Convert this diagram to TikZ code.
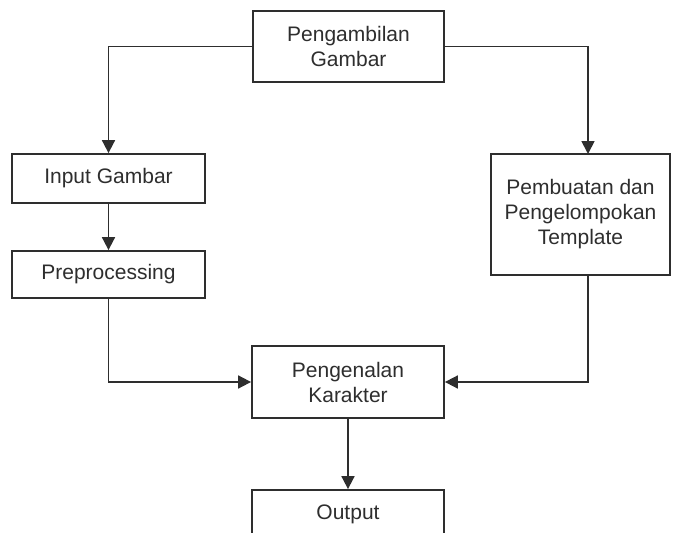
\documentclass[tikz,border=0pt]{standalone}
\usepackage{fontspec}
\setmainfont{Liberation Sans}
\usetikzlibrary{arrows.meta}
\definecolor{ink}{HTML}{2E2E2E}
\tikzset{
  box/.style={draw=ink, line width=1.8pt, fill=white, text=ink, align=center,
    font=\fontsize{21}{25}\selectfont, inner sep=0pt},
  arr/.style={draw=ink, line width=1.8pt, -{Triangle[length=13pt,width=13pt]}}
}
\begin{document}
\begin{tikzpicture}[x=1pt,y=-1pt]
\useasboundingbox (0,0) rectangle (673,533);
\clip (0,0) rectangle (673,533);
\node[box, minimum width=191pt, minimum height=71pt] (a) at (348.5,46.5) {Pengambilan\\Gambar};
\node[box, minimum width=193pt, minimum height=49pt] (b) at (108.5,178.5) {Input Gambar};
\node[box, minimum width=193pt, minimum height=47pt] (c) at (108.5,274.5) {Preprocessing};
\node[box, minimum width=179pt, minimum height=121pt] (d) at (580.5,214.5) {Pembuatan dan\\Pengelompokan\\Template};
\node[box, minimum width=192pt, minimum height=72pt] (e) at (348,382) {Pengenalan\\Karakter};
\node[box, minimum width=192pt, minimum height=49pt] (f) at (348,514.5) {Output};
\coordinate (dtop) at (588,154);
\coordinate (dbot) at (588,275);
\draw[arr] (a.west) -| (b.north);
\draw[arr] (a.east) -| (dtop);
\draw[arr] (b.south) -- (c.north);
\draw[arr] (c.south) |- (e.west);
\draw[arr] (dbot) |- (e.east);
\draw[arr] (e.south) -- (f.north);
\end{tikzpicture}
\end{document}
